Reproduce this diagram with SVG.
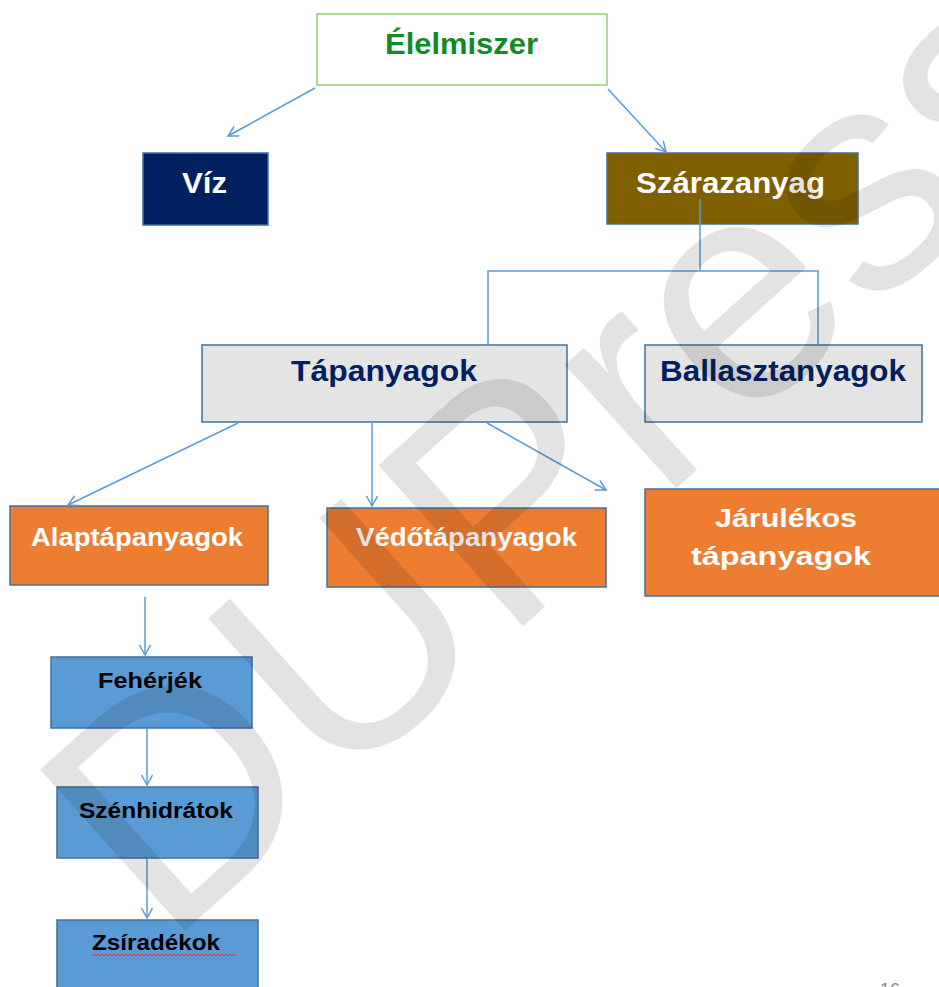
<svg xmlns="http://www.w3.org/2000/svg" width="939" height="987" viewBox="0 0 939 987">
<defs>
<marker id="arr" markerUnits="userSpaceOnUse" markerWidth="14" markerHeight="14" refX="11" refY="6" orient="auto">
<path d="M1,0.5 L11,6 L1,11.5" fill="none" stroke="#5b9bd5" stroke-width="1.5"/>
</marker>
<style>
.box{stroke:#41719c;stroke-width:1.5}
.t{font-family:"Liberation Sans",Arial,sans-serif;font-weight:bold;text-anchor:start}
.con{fill:none;stroke:#5b9bd5;stroke-width:1.5}
.wm{font-family:"Liberation Sans",Arial,sans-serif;fill:#000;fill-opacity:0.11}
</style>
</defs>
<rect width="939" height="987" fill="#fff"/>
<g id="elelmiszer">
<rect x="317" y="14" width="290" height="71" fill="#fff" stroke="#9acb6f" stroke-width="1.5"/>
<text class="t" x="385" y="54" font-size="30" fill="#138a24" textLength="153" lengthAdjust="spacingAndGlyphs">Élelmiszer</text>
</g>
<g id="viz">
<rect class="box" x="143" y="153" width="125" height="72" fill="#002060"/>
<text class="t" x="182" y="193" font-size="30" fill="#fff" textLength="45" lengthAdjust="spacingAndGlyphs">Víz</text>
</g>
<g id="szarazanyag">
<rect class="box" x="607" y="153" width="251" height="71" fill="#7f6000"/>
<text class="t" x="636" y="193" font-size="30" fill="#fff" textLength="189" lengthAdjust="spacingAndGlyphs">Szárazanyag</text>
</g>
<g id="tapanyagok">
<rect class="box" x="202" y="345" width="365" height="77" fill="#e4e4e4" stroke="#44678f"/>
<text class="t" x="291" y="381" font-size="30" fill="#002060" textLength="186" lengthAdjust="spacingAndGlyphs">Tápanyagok</text>
</g>
<g id="ballasztanyagok">
<rect class="box" x="645" y="345" width="277" height="77" fill="#e4e4e4" stroke="#44678f"/>
<text class="t" x="660" y="381" font-size="30" fill="#002060" textLength="246" lengthAdjust="spacingAndGlyphs">Ballasztanyagok</text>
</g>
<g id="alaptapanyagok">
<rect class="box" x="10" y="506" width="258" height="79" fill="#ed7d31"/>
<text class="t" x="31" y="546" font-size="26" fill="#fff" textLength="212" lengthAdjust="spacingAndGlyphs">Alaptápanyagok</text>
</g>
<g id="vedotapanyagok">
<rect class="box" x="327" y="508" width="279" height="79" fill="#ed7d31"/>
<text class="t" x="356" y="546" font-size="26" fill="#fff" textLength="221" lengthAdjust="spacingAndGlyphs">Védőtápanyagok</text>
</g>
<g id="jarulekos">
<rect class="box" x="645" y="489" width="300" height="107" fill="#ed7d31"/>
<text class="t" x="715" y="527" font-size="26" fill="#fff" textLength="142" lengthAdjust="spacingAndGlyphs">Járulékos</text>
<text class="t" x="691" y="565" font-size="26" fill="#fff" textLength="180" lengthAdjust="spacingAndGlyphs">tápanyagok</text>
</g>
<g id="feherjek">
<rect class="box" x="51" y="657" width="201" height="71" fill="#5b9bd5"/>
<text class="t" x="98" y="688" font-size="22" fill="#000" textLength="104" lengthAdjust="spacingAndGlyphs">Fehérjék</text>
</g>
<g id="szenhidratok">
<rect class="box" x="57" y="787" width="201" height="71" fill="#5b9bd5"/>
<text class="t" x="79" y="818" font-size="22" fill="#000" textLength="154" lengthAdjust="spacingAndGlyphs">Szénhidrátok</text>
</g>
<g id="zsiradekok">
<rect class="box" x="57" y="920" width="201" height="80" fill="#5b9bd5"/>
<text class="t" x="92" y="950" font-size="22" fill="#000" textLength="128" lengthAdjust="spacingAndGlyphs">Zsíradékok</text>
<path d="M92,956 l2,-2 l2,2 l2,-2 l2,2 l2,-2 l2,2 l2,-2 l2,2 l2,-2 l2,2 l2,-2 l2,2 l2,-2 l2,2 l2,-2 l2,2 l2,-2 l2,2 l2,-2 l2,2 l2,-2 l2,2 l2,-2 l2,2 l2,-2 l2,2 l2,-2 l2,2 l2,-2 l2,2 l2,-2 l2,2 l2,-2 l2,2 l2,-2 l2,2 l2,-2 l2,2 l2,-2 l2,2 l2,-2 l2,2 l2,-2 l2,2 l2,-2 l2,2 l2,-2 l2,2 l2,-2 l2,2 l2,-2 l2,2 l2,-2 l2,2 l2,-2 l2,2 l2,-2 l2,2 l2,-2 l2,2 l2,-2 l2,2 l2,-2 l2,2 l2,-2 l2,2 l2,-2 l2,2 l2,-2 l2,2 l2,-2 l2,2" fill="none" stroke="#e03030" stroke-width="1"/>
</g>
<g id="connectors">
<line class="con" x1="315" y1="88" x2="228" y2="136" marker-end="url(#arr)"/>
<line class="con" x1="608" y1="89" x2="666" y2="152" marker-end="url(#arr)"/>
<polyline class="con" points="700,199 700,271"/>
<polyline class="con" points="488,345 488,271 818,271 818,345"/>
<line class="con" x1="238" y1="423" x2="68" y2="505" marker-end="url(#arr)"/>
<line class="con" x1="372" y1="423" x2="372" y2="506" marker-end="url(#arr)"/>
<line class="con" x1="487" y1="423" x2="606" y2="490" marker-end="url(#arr)"/>
<line class="con" x1="145" y1="597" x2="145" y2="655" marker-end="url(#arr)"/>
<line class="con" x1="147" y1="728" x2="147" y2="785" marker-end="url(#arr)"/>
<line class="con" x1="147" y1="858" x2="147" y2="918" marker-end="url(#arr)"/>
</g>
<text x="880" y="996" font-family="Liberation Sans,Arial,sans-serif" font-size="18" fill="#8a8a8a">16</text>
<text class="wm" font-size="315" transform="translate(166,948) rotate(-42)">DUPress</text>
</svg>
